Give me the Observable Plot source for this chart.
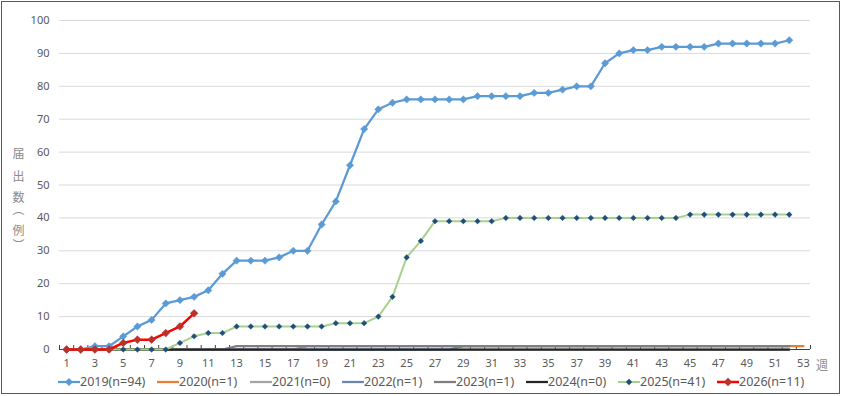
<!DOCTYPE html>
<html>
<head>
<meta charset="utf-8">
<script src="https://cdn.jsdelivr.net/npm/d3@7"></script>
<script src="https://cdn.jsdelivr.net/npm/@observablehq/plot@0.6"></script>
<style>
  html, body { margin: 0; padding: 0; background: #fff; }
  body { width: 842px; height: 396px; position: relative; overflow: hidden;
         font-family: "Noto Sans", "Noto Sans CJK JP", sans-serif; color: #595959; }
  #chart { position: absolute; left: 0; top: 0; }
  #frame { position: absolute; left: 1px; top: 1px; width: 837px; height: 391px;
           border: 1px solid #595959; pointer-events: none; }
  .ych { position: absolute; left: 11px; width: 14px; text-align: center; writing-mode: vertical-rl;
         font-family: "Noto Sans CJK JP", sans-serif; font-size: 12px; line-height: 14px;
         color: #8c8c8c; transform: translateY(-50%); }
  #xunit { position: absolute; left: 816px; top: 356px; font-family: "Noto Sans CJK JP", sans-serif;
           font-size: 12px; color: #8c8c8c; }
  .item { position: absolute; top: 373px; display: flex; align-items: center; white-space: nowrap;
          font-size: 12.5px; color: #595959; }
  .item svg { display: block; }
</style>
</head>
<body>
<div id="chart"></div>
<div id="ylabel"></div>
<div id="xunit">週</div>
<div id="legend"></div>
<div id="frame"></div>
<script>
// ---- data ----
const weeks = [1,2,3,4,5,6,7,8,9,10,11,12,13,14,15,16,17,18,19,20,21,22,23,24,25,26,27,28,29,30,31,32,33,34,35,36,37,38,39,40,41,42,43,44,45,46,47,48,49,50,51,52,53];
const xTickLabels = [1,3,5,7,9,11,13,15,17,19,21,23,25,27,29,31,33,35,37,39,41,43,45,47,49,51,53];
const yTicks = [0,10,20,30,40,50,60,70,80,90,100];
const yLabelChars = ["届","出","数","（","例","）"];

const seriesNames = ["2019(n=94)","2020(n=1)","2021(n=0)","2022(n=1)","2023(n=1)","2024(n=0)","2025(n=41)","2026(n=11)"];
const seriesColors = ["#5B9BD5","#ED7D31","#A5A5A5","#6E85B2","#7F7F7F","#262626","#A9D18E","#FF0000"];
const markerColors = ["#5B9BD5",null,null,null,null,null,"#1F4E79","#B8312A"];

const v2019 = [0,0,1,1,4,7,9,14,15,16, 18,23,27,27,27,28,30,30,38,45, 56,67,73,75,76,76,76,76,76,77, 77,77,77,78,78,79,80,80,87,90, 91,91,92,92,92,92,93,93,93,93, 93,94];
const v2020 = [0,0,0,0,0,0,0,0,0,0, 0,0,0,0,0,0,0,1,1,1, 1,1,1,1,1,1,1,1,1,1, 1,1,1,1,1,1,1,1,1,1, 1,1,1,1,1,1,1,1,1,1, 1,1,1];
const v2021 = [0,0,0,0,0,0,0,0,0,0, 0,0,0,0,0,0,0,0,0,0, 0,0,0,0,0,0,0,0,0,0, 0,0,0,0,0,0,0,0,0,0, 0,0,0,0,0,0,0,0,0,0, 0,0];
const v2022 = [0,0,0,0,0,0,0,0,0,0, 0,0,0,0,0,0,0,0,0,0, 0,0,0,0,0,0,0,0,1,1, 1,1,1,1,1,1,1,1,1,1, 1,1,1,1,1,1,1,1,1,1, 1,1];
const v2023 = [0,0,0,0,0,0,0,0,0,0, 0,0,1,1,1,1,1,1,1,1, 1,1,1,1,1,1,1,1,1,1, 1,1,1,1,1,1,1,1,1,1, 1,1,1,1,1,1,1,1,1,1, 1,1];
const v2024 = [0,0,0,0,0,0,0,0,0,0, 0,0,0,0,0,0,0,0,0,0, 0,0,0,0,0,0,0,0,0,0, 0,0,0,0,0,0,0,0,0,0, 0,0,0,0,0,0,0,0,0,0, 0,0];
const v2025 = [0,0,0,0,0,0,0,0,2,4, 5,5,7,7,7,7,7,7,7,8, 8,8,10,16,28,33,39,39,39,39, 39,40,40,40,40,40,40,40,40,40, 40,40,40,40,41,41,41,41,41,41, 41,41];
const v2026 = [0,0,0,0,2,3,3,5,7,11];

const seriesValues = [v2019, v2020, v2021, v2022, v2023, v2024, v2025, v2026];
const lineWidths = [2.25, 2.25, 2.25, 2.25, 2.25, 2.25, 2, 2.5];
const markerR = [3.3, 0, 0, 0, 0, 0, 2.5, 3.5];

// ---- layout (pixels) ----
const yLabelTops = [153, 176, 197, 209, 230, 245];
const legendLefts = [58, 157, 250, 342, 434, 526, 618, 717];

// ---- build ----
const rows = seriesValues.map(vals => vals.map((v, i) => ({week: weeks[i], value: v})));
const boundaries = [weeks[0] - 0.5, ...weeks.map(w => w + 0.5)];

const marks = [
  Plot.gridY(yTicks.filter(t => t > 0), {stroke: "#D9D9D9", strokeOpacity: 1, strokeWidth: 1}),
  Plot.axisY(yTicks, {tickSize: 0, tickPadding: 10, label: null, fill: "#595959", fontSize: 11}),
  Plot.axisX(xTickLabels, {tickSize: 0, tickPadding: 10, label: null, fill: "#595959", fontSize: 11}),
  Plot.ruleY([0], {stroke: "#404040", strokeWidth: 1}),
  Plot.ruleX(boundaries, {x: d => d, y1: d => 0, y2: d => 0, insetTop: -4, stroke: "#404040", strokeWidth: 1})
];

seriesValues.forEach((vals, s) => {
  marks.push(Plot.line(rows[s], {x: "week", y: "value", stroke: seriesColors[s], strokeWidth: lineWidths[s], strokeLinejoin: "round", curve: "linear"}));
  if (markerColors[s]) {
    marks.push(Plot.dot(rows[s], {x: "week", y: "value", symbol: "diamond2", r: markerR[s], fill: markerColors[s], stroke: markerColors[s], strokeWidth: 0.5}));
  }
});

const chart = Plot.plot({
  width: 842,
  height: 372,
  marginTop: 20,
  marginBottom: 23,
  marginLeft: 59,
  marginRight: 32,
  x: {type: "linear", domain: [0.5, 53.5], axis: null},
  y: {type: "linear", domain: [0, 100], axis: null},
  style: {background: "transparent", fontFamily: "'Noto Sans', 'Noto Sans CJK JP', sans-serif", fontSize: "11px", color: "#595959"},
  marks
});
document.getElementById("chart").appendChild(chart);

// ---- y label (stacked vertical characters) ----
const yl = document.getElementById("ylabel");
yLabelChars.forEach((ch, i) => {
  const d = document.createElement("div");
  d.className = "ych";
  d.style.top = yLabelTops[i] + "px";
  d.textContent = ch;
  yl.appendChild(d);
});

// ---- legend ----
const legend = document.getElementById("legend");
const ns = "http://www.w3.org/2000/svg";
seriesNames.forEach((name, s) => {
  const item = document.createElement("div");
  item.className = "item";
  item.style.left = legendLefts[s] + "px";
  const sv = document.createElementNS(ns, "svg");
  sv.setAttribute("width", 22); sv.setAttribute("height", 12);
  const ln = document.createElementNS(ns, "line");
  ln.setAttribute("x1", 0); ln.setAttribute("x2", 22); ln.setAttribute("y1", 6); ln.setAttribute("y2", 6);
  ln.setAttribute("stroke", seriesColors[s]); ln.setAttribute("stroke-width", lineWidths[s]);
  sv.appendChild(ln);
  if (markerColors[s]) {
    const r = markerR[s] + 0.7;
    const p = document.createElementNS(ns, "path");
    p.setAttribute("d", `M11,${6 - r}L${11 + r},6L11,${6 + r}L${11 - r},6Z`);
    p.setAttribute("fill", markerColors[s]);
    sv.appendChild(p);
  }
  const t = document.createElement("span");
  t.textContent = name;
  item.appendChild(sv); item.appendChild(t);
  legend.appendChild(item);
});
</script>
</body>
</html>
